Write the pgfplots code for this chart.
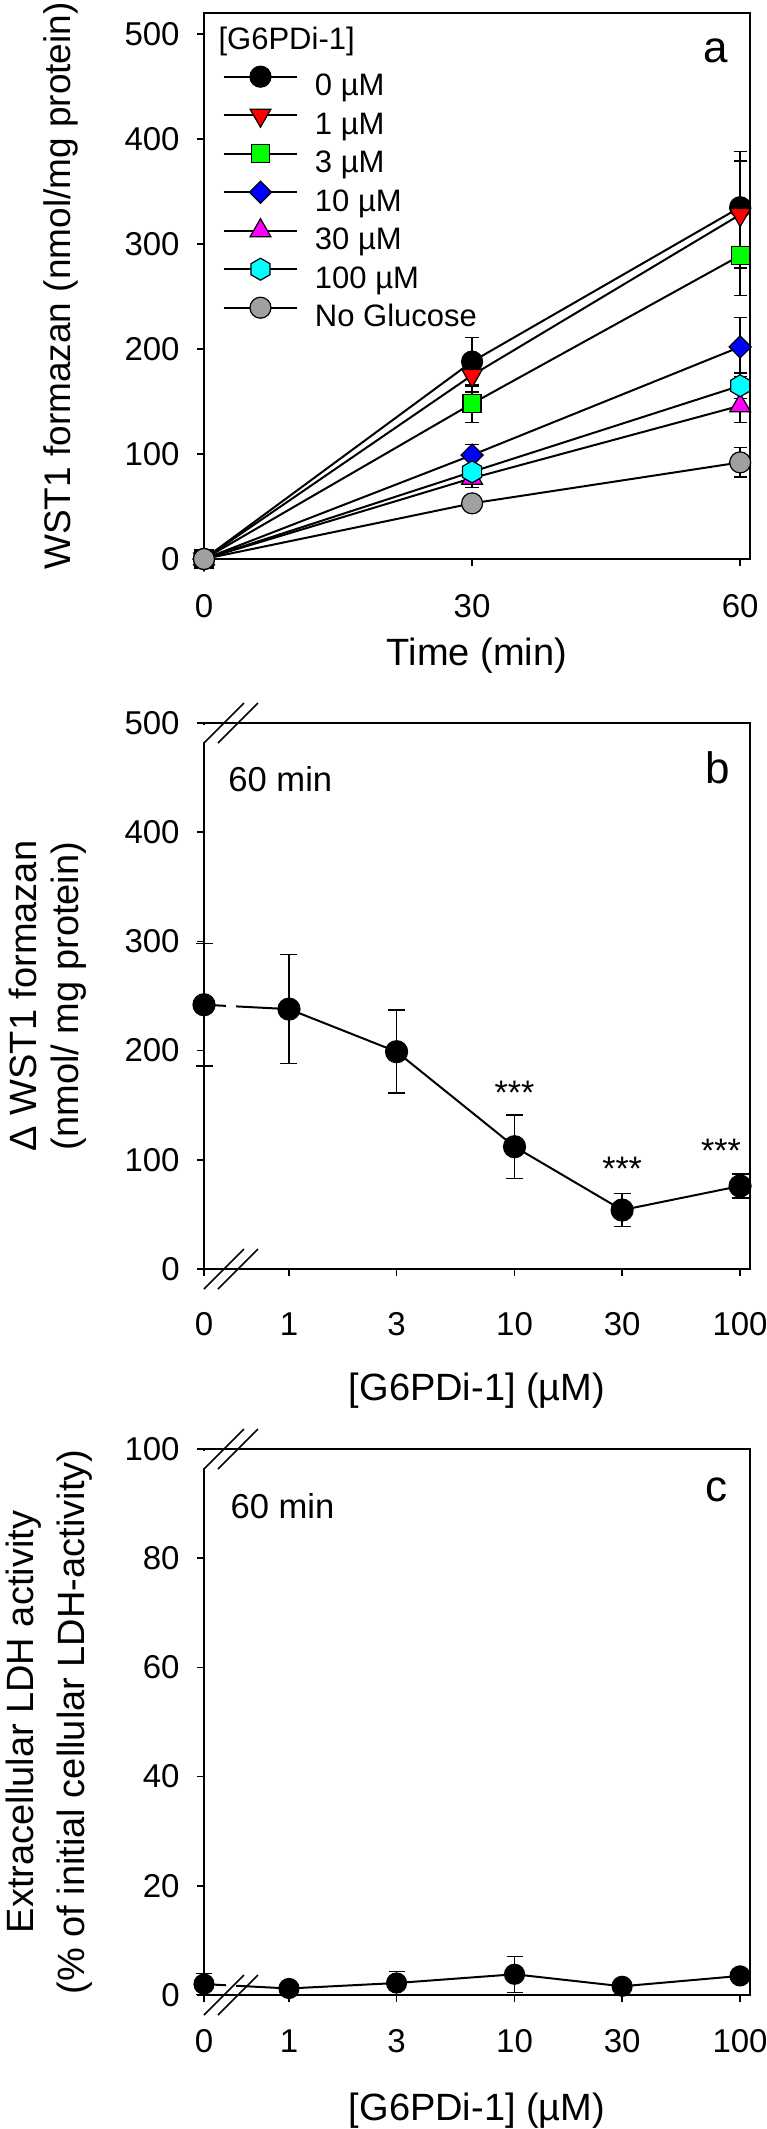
\documentclass[border=0pt]{standalone}
\usepackage{pgfplots}
\pgfplotsset{compat=1.18}
\usepackage{fontspec}
\setmainfont{Liberation Sans}
\usetikzlibrary{plotmarks}

\definecolor{cRed}{RGB}{255,0,0}
\definecolor{cGreen}{RGB}{0,255,0}
\definecolor{cBlue}{RGB}{0,0,255}
\definecolor{cMag}{RGB}{255,0,255}
\definecolor{cCyan}{RGB}{0,255,255}
\definecolor{cGray}{RGB}{160,160,160}

\pgfdeclareplotmark{hexagon*}{%
  \pgfpathmoveto{\pgfqpointpolar{90}{\pgfplotmarksize}}%
  \pgfpathlineto{\pgfqpointpolar{150}{\pgfplotmarksize}}%
  \pgfpathlineto{\pgfqpointpolar{210}{\pgfplotmarksize}}%
  \pgfpathlineto{\pgfqpointpolar{270}{\pgfplotmarksize}}%
  \pgfpathlineto{\pgfqpointpolar{330}{\pgfplotmarksize}}%
  \pgfpathlineto{\pgfqpointpolar{30}{\pgfplotmarksize}}%
  \pgfpathclose
  \pgfusepathqfillstroke}

\newcommand{\tickfont}{\fontsize{16.5}{19}\selectfont}
\newcommand{\labfont}{\fontsize{19}{21}\selectfont}

\pgfplotsset{
  panel/.style={
    scale only axis, width=273pt, height=273pt,
    clip=false,
    axis line style={line width=0.75pt},
    tick align=outside, tick pos=left,
    major tick length=3.5pt,
    every tick/.style={black, line width=0.75pt},
    tick label style={font=\tickfont},
    /pgf/number format/assume math mode=true,
    yticklabel style={anchor=east, inner sep=0pt, xshift=-8.5pt},
  },
  mk/.style 2 args={mark=#1, mark options={draw=black, fill=#2, line width=0.6pt, solid}},
  dat/.style={black, line width=1pt,
    error bars/y dir=both, error bars/y explicit,
    error bars/error bar style={line width=0.75pt, black},
    error bars/error mark options={rotate=90, mark size=3.3pt, line width=0.75pt, black}},
}

\begin{document}
\begin{tikzpicture}
\useasboundingbox (0,0) rectangle (383pt,-1064.5pt);

% ---------------- panel a ----------------
\begin{axis}[panel, at={(102pt,-279.5pt)}, anchor=south west,
  xmin=0, xmax=61.1, ymin=0, ymax=520,
  xtick={0,30,60}, ytick={0,100,...,500},
  xticklabel style={anchor=center, inner sep=0pt, yshift=-20.25pt},
  every axis y label/.style={at={(rel axis cs:-0.262,0.5)}, rotate=90, anchor=center, font=\fontsize{18.5}{21}\selectfont},
  every axis x label/.style={at={(rel axis cs:0.5,-0.177)}, anchor=center, font=\labfont},
  ylabel={WST1 formazan (nmol/mg protein)},
  xlabel={Time (min)},
  legend style={at={(rel axis cs:0.0366,0.9035)}, anchor=north west, draw=none, fill=none,
    inner sep=0pt, outer sep=0pt, row sep=0.75pt, font=\fontsize{15.5}{18}\selectfont,
    nodes={inner sep=0pt, text height=11.5pt, text depth=3.5pt},
    /tikz/every odd column/.append style={column sep=9pt}},
  legend cell align=left,
  legend image code/.code={\path[draw=none, fill=none, use as bounding box] (0pt,0pt) rectangle (36.5pt,11pt);\draw[mark repeat=2, mark phase=2, #1] plot coordinates {(0pt,5.5pt) (18.25pt,5.5pt) (36.5pt,5.5pt)};},
]
\addplot[dat, mk={*}{black}, mark size=5.25pt] coordinates {(0,0) +- (0,0) (30,188) +- (0,23) (60,335) +- (0,53)};
\addlegendentry{0 µM}
\addplot[dat, mk={triangle*}{cRed}, mark size=6pt, every mark/.append style={rotate=180}] coordinates {(0,0) +- (0,0) (30,175) +- (0,16) (60,328) +- (0,51)};
\addlegendentry{1 µM}
\addplot[dat, mk={square*}{cGreen}, mark size=4.5pt] coordinates {(0,0) +- (0,0) (30,148) +- (0,18) (60,289) +- (0,38)};
\addlegendentry{3 µM}
\addplot[dat, mk={square*}{cBlue}, mark size=3.9pt, every mark/.append style={rotate=45}] coordinates {(0,0) +- (0,0) (30,99) +- (0,10) (60,202) +- (0,28)};
\addlegendentry{10 µM}
\addplot[dat, mk={triangle*}{cMag}, mark size=6pt] coordinates {(0,0) +- (0,0) (30,77) +- (0,9) (60,146) +- (0,16)};
\addlegendentry{30 µM}
\addplot[dat, mk={hexagon*}{cCyan}, mark size=5.5pt] coordinates {(0,0) +- (0,0) (30,83) +- (0,6) (60,165) +- (0,12)};
\addlegendentry{100 µM}
\addplot[dat, mk={*}{cGray}, mark size=5.25pt] coordinates {(0,0) +- (0,0) (30,53) +- (0,4) (60,92) +- (0,14)};
\addlegendentry{No Glucose}
\node[anchor=west, inner sep=0pt, font=\fontsize{15.5}{18}\selectfont] at (rel axis cs:0.026,0.947) {[G6PDi-1]};
\node[anchor=base, inner sep=0pt, font=\fontsize{22}{24}\selectfont] at (rel axis cs:0.938,0.910) {a};
\end{axis}

% ---------------- panel b ----------------
\begin{axis}[panel, at={(102pt,-634.5pt)}, anchor=south west,
  xmode=log, xmin=0.42, xmax=110.7, ymin=0, ymax=500,
  xtick={0.42,1,3,10,30,100}, xticklabels={0,1,3,10,30,100}, xminorticks=false,
  ytick={0,100,...,500},
  xticklabel style={anchor=center, inner sep=0pt, yshift=-24.25pt},
  every axis y label/.style={at={(rel axis cs:-0.286,0.5)}, rotate=90, anchor=center, align=center, font=\labfont},
  every axis x label/.style={at={(rel axis cs:0.5,-0.222)}, anchor=center, font=\labfont},
  ylabel={Δ WST1 formazan\\(nmol/ mg protein)},
  xlabel={[G6PDi-1] (µM)},
]
\addplot[dat, mk={*}{black}, mark size=5.5pt, error bars/error mark options={rotate=90, mark size=4.25pt, line width=0.75pt, black}] coordinates {(0.42,242) +- (0,56) (1,238) +- (0,50) (3,199) +- (0,38) (10,112) +- (0,29) (30,54) +- (0,15) (100,76) +- (0,11)};
\fill[white] (rel axis cs:0.040,0.003) rectangle (rel axis cs:0.059,0.997);
\draw[white, line width=1.5pt] ([yshift=-1pt]rel axis cs:0,1) -- ([yshift=-9.5pt]rel axis cs:0,1);
\draw[line width=0.75pt] ([shift={(0pt,-10pt)}]rel axis cs:0,1) -- ++(20pt,20pt);
\draw[line width=0.75pt] ([shift={(7pt,-10pt)}]rel axis cs:0,1) -- ++(20pt,20pt);
\draw[line width=0.75pt] ([shift={(0pt,-10pt)}]rel axis cs:0,0) -- ++(20pt,20pt);
\draw[line width=0.75pt] ([shift={(7pt,-10pt)}]rel axis cs:0,0) -- ++(20pt,20pt);
\node[anchor=base, inner sep=0pt, font=\fontsize{17}{19}\selectfont] at (axis cs:10,151) {***};
\node[anchor=base, inner sep=0pt, font=\fontsize{17}{19}\selectfont] at (axis cs:30,81) {***};
\node[anchor=base, inner sep=0pt, font=\fontsize{17}{19}\selectfont] at (axis cs:82.4,98) {***};
\node[anchor=base west, inner sep=0pt, font=\fontsize{17.3}{20}\selectfont] at (rel axis cs:0.044,0.874) {60 min};
\node[anchor=base, inner sep=0pt, font=\fontsize{22}{24}\selectfont] at (rel axis cs:0.940,0.890) {b};
\end{axis}

% ---------------- panel c ----------------
\begin{axis}[panel, at={(102pt,-997.5pt)}, anchor=south west,
  xmode=log, xmin=0.42, xmax=110.7, ymin=0, ymax=100,
  xtick={0.42,1,3,10,30,100}, xticklabels={0,1,3,10,30,100}, xminorticks=false,
  ytick={0,20,...,100},
  xticklabel style={anchor=center, inner sep=0pt, yshift=-19.75pt},
  every axis y label/.style={at={(rel axis cs:-0.283,0.5)}, rotate=90, anchor=center, align=center, font=\fontsize{19}{25.5}\selectfont},
  every axis x label/.style={at={(rel axis cs:0.5,-0.212)}, anchor=center, font=\labfont},
  ylabel={Extracellular LDH activity\\(\% of initial cellular LDH-activity)},
  xlabel={[G6PDi-1] (µM)},
]
\addplot[dat, mk={*}{black}, mark size=5pt, error bars/error mark options={rotate=90, mark size=4pt, line width=0.75pt, black}] coordinates {(0.42,2.0) +- (0,1.9) (1,1.2) +- (0,0.5) (3,2.2) +- (0,2.1) (10,3.8) +- (0,3.3) (30,1.6) +- (0,0.5) (100,3.5) +- (0,0.8)};
\fill[white] (rel axis cs:0.040,0.003) rectangle (rel axis cs:0.059,0.997);
\draw[white, line width=1.5pt] ([yshift=-1pt]rel axis cs:0,1) -- ([yshift=-9.5pt]rel axis cs:0,1);
\draw[line width=0.75pt] ([shift={(0pt,-10pt)}]rel axis cs:0,1) -- ++(20pt,20pt);
\draw[line width=0.75pt] ([shift={(7pt,-10pt)}]rel axis cs:0,1) -- ++(20pt,20pt);
\draw[line width=0.75pt] ([shift={(0pt,-10pt)}]rel axis cs:0,0) -- ++(20pt,20pt);
\draw[line width=0.75pt] ([shift={(7pt,-10pt)}]rel axis cs:0,0) -- ++(20pt,20pt);
\node[anchor=base west, inner sep=0pt, font=\fontsize{17.3}{20}\selectfont] at (rel axis cs:0.048,0.872) {60 min};
\node[anchor=base, inner sep=0pt, font=\fontsize{22}{24}\selectfont] at (rel axis cs:0.938,0.903) {c};
\end{axis}
\end{tikzpicture}
\end{document}
